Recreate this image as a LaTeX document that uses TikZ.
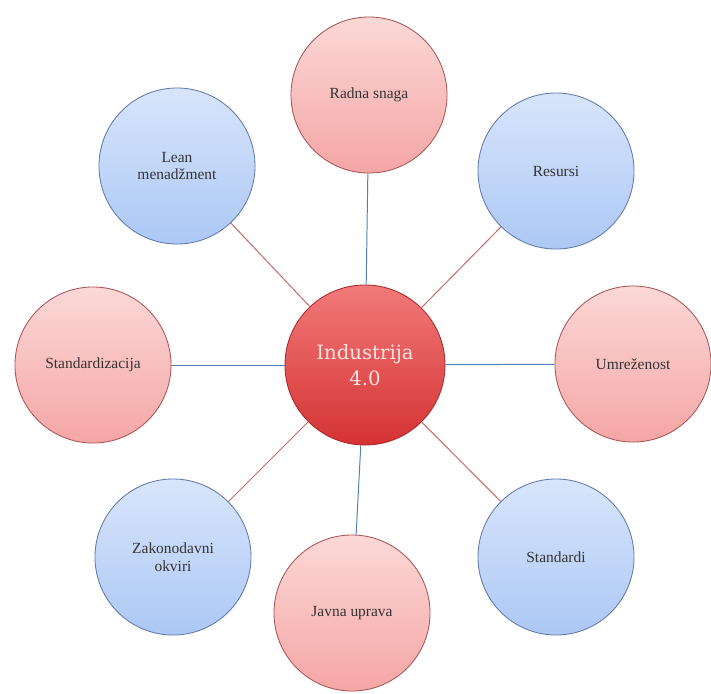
\documentclass[tikz,border=0pt]{standalone}
\usepackage{fontspec}
\setmainfont{Liberation Serif}
\newfontfamily\hubfont{DejaVu Serif}
\definecolor{pinkTop}{RGB}{251,216,215}
\definecolor{pinkBot}{RGB}{244,166,165}
\definecolor{pinkEdge}{RGB}{168,84,84}
\definecolor{blueTop}{RGB}{216,229,251}
\definecolor{blueBot}{RGB}{172,200,245}
\definecolor{blueEdge}{RGB}{96,122,168}
\definecolor{hubTop}{RGB}{242,122,122}
\definecolor{hubBot}{RGB}{212,50,50}
\definecolor{spokeBlue}{RGB}{84,128,182}
\definecolor{spokeRed}{RGB}{196,104,102}
\definecolor{labelGray}{RGB}{52,52,52}
\begin{document}
\begin{tikzpicture}[x=0.025cm, y=-0.025cm,
    bubble/.style={circle, minimum size=3.9cm, inner sep=0pt, align=center,
        text=labelGray, font=\fontsize{11}{12.5}\selectfont, line width=0.6pt},
    redbubble/.style={bubble, draw=pinkEdge, top color=pinkTop, bottom color=pinkBot},
    bluebubble/.style={bubble, draw=blueEdge, top color=blueTop, bottom color=blueBot},
    hub/.style={bubble, minimum size=4cm, draw=hubBot!80!black, top color=hubTop, bottom color=hubBot,
        text={rgb,255:red,255;green,228;blue,226}, font=\hubfont\fontsize{14}{18}\selectfont},
    spoke/.style={line width=0.7pt}]
    \useasboundingbox (0,0) rectangle (711,693);

    \node[hub] (industrija) at (365,365) {Industrija\\4.0};
    \node[redbubble] (radna) at (369,95) {Radna snaga};
    \node[bluebubble] (resursi) at (556,171) {Resursi};
    \node[redbubble] (umrezenost) at (633,364) {Umreženost};
    \node[bluebubble] (standardi) at (556,557) {Standardi};
    \node[redbubble] (javna) at (352,613) {Javna uprava};
    \node[bluebubble] (zakonodavni) at (173,557) {Zakonodavni\\okviri};
    \node[redbubble] (standardizacija) at (93,365) {Standardizacija};
    \node[bluebubble] (lean) at (177,166) {Lean\\menadžment};

    \draw[spoke, spokeBlue] (industrija) -- (radna);
    \draw[spoke, spokeRed] (industrija) -- (resursi);
    \draw[spoke, spokeBlue] (industrija) -- (umrezenost);
    \draw[spoke, spokeRed] (industrija) -- (standardi);
    \draw[spoke, spokeBlue] (industrija) -- (javna);
    \draw[spoke, spokeRed] (industrija) -- (zakonodavni);
    \draw[spoke, spokeBlue] (industrija) -- (standardizacija);
    \draw[spoke, spokeRed] (industrija) -- (lean);
\end{tikzpicture}
\end{document}
